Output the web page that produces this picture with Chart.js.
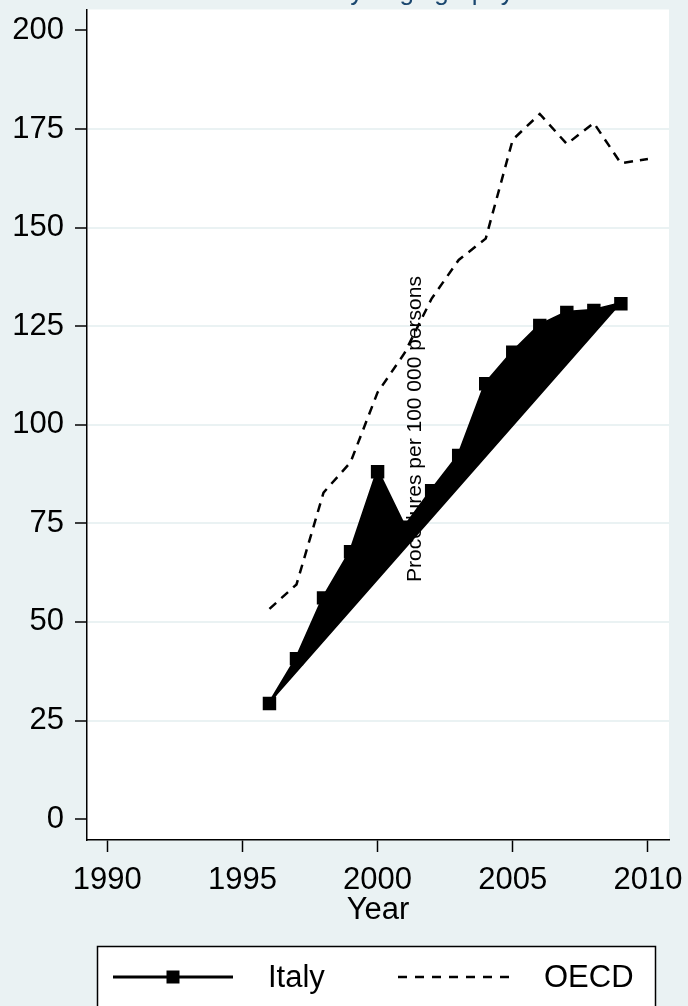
<!DOCTYPE html>
<html>
<head>
<meta charset="utf-8">
<script src="https://cdn.jsdelivr.net/npm/chart.js@4.4.1/dist/chart.umd.min.js"></script>
<style>
  html, body { margin: 0; padding: 0; background: #eaf2f3; }
  #wrap { width: 688px; height: 1006px; }
</style>
</head>
<body>
<div id="wrap"><canvas id="chart" width="688" height="1006"></canvas></div>
<script>
// values
var years = [1996, 1997, 1998, 1999, 2000, 2001, 2002, 2003, 2004, 2005, 2006, 2007, 2008, 2009];
var italy = [29.3, 40.7, 56.1, 67.8, 88.1, 74.0, 83.3, 92.2, 110.4, 118.4, 125.2, 128.5, 129.0, 130.7];
var oecdYears = [1996, 1997, 1998, 1999, 2000, 2001, 2002, 2003, 2004, 2005, 2006, 2007, 2008, 2009, 2010];
var oecd = [53.3, 59.5, 82.8, 90.5, 108.2, 118.2, 132.0, 141.8, 147.2, 172.3, 178.8, 171.2, 176.5, 166.3, 167.4];
var xTicks = [1990, 1995, 2000, 2005, 2010];
var yTicks = [0, 25, 50, 75, 100, 125, 150, 175, 200];

var bg = "#eaf2f3";
var fontName = "'Liberation Sans', Arial, sans-serif";

function pts(xs, ys) {
  var out = [];
  for (var i = 0; i < xs.length; i++) out.push({ x: xs[i], y: ys[i] });
  return out;
}

// closing chord of the Italy polygon, first point to last point
var chord = [
  { x: years[0], y: italy[0] },
  { x: years[years.length - 1], y: italy[italy.length - 1] }
];

var stataLook = {
  id: "stataLook",
  beforeDraw: function (chart) {
    var ctx = chart.ctx, a = chart.chartArea;
    ctx.save();
    ctx.fillStyle = bg;
    ctx.fillRect(0, 0, chart.width, chart.height);
    ctx.fillStyle = "#ffffff";
    ctx.fillRect(a.left, a.top, a.right - a.left, a.bottom - a.top);
    ctx.restore();
  },
  afterDraw: function (chart) {
    var ctx = chart.ctx;
    ctx.save();
    // title, mostly cut off at the top edge
    ctx.fillStyle = "#1a476f";
    ctx.font = "26px " + fontName;
    ctx.textAlign = "center";
    ctx.textBaseline = "alphabetic";
    ctx.fillText("Coronary angiography", 385, 0);

    // y axis title, where stata put it
    ctx.fillStyle = "#000";
    ctx.font = "21px " + fontName;
    ctx.translate(415, 429);
    ctx.rotate(-Math.PI / 2);
    ctx.textBaseline = "middle";
    ctx.fillText("Procedures per 100 000 persons", 0, 0);
    ctx.restore();

    // legend box
    ctx.save();
    ctx.fillStyle = "#fff";
    ctx.fillRect(97, 946, 559, 70);
    ctx.strokeStyle = "#000";
    ctx.lineWidth = 1.5;
    ctx.strokeRect(97.5, 946.5, 558, 70);
    var ly = 977;
    ctx.lineWidth = 3;
    ctx.beginPath(); ctx.moveTo(113, ly); ctx.lineTo(233, ly); ctx.stroke();
    ctx.fillStyle = "#000";
    ctx.fillRect(173 - 6.5, ly - 6.5, 13, 13);
    ctx.lineWidth = 2.5;
    ctx.setLineDash([9, 8]);
    ctx.beginPath(); ctx.moveTo(398, ly); ctx.lineTo(516, ly); ctx.stroke();
    ctx.setLineDash([]);
    ctx.font = "31px " + fontName;
    ctx.textAlign = "left";
    ctx.textBaseline = "middle";
    ctx.fillText(chart.data.datasets[0].label, 268, ly + 1);
    ctx.fillText(chart.data.datasets[1].label, 544, ly + 1);
    ctx.restore();
  }
};

new Chart(document.getElementById("chart"), {
  type: "line",
  data: {
    datasets: [
      {
        label: "Italy",
        data: pts(years, italy),
        borderColor: "#000",
        borderWidth: 3.5,
        backgroundColor: "#000",
        pointStyle: "rect",
        pointRadius: 9.5,
        pointBackgroundColor: "#000",
        pointBorderWidth: 0,
        fill: { target: 2, above: "#000", below: "#000" },
        tension: 0
      },
      {
        label: "OECD",
        data: pts(oecdYears, oecd),
        borderColor: "#000",
        borderWidth: 2.5,
        borderDash: [9, 7],
        pointRadius: 0,
        fill: false,
        tension: 0
      },
      {
        label: "chord",
        data: chord,
        borderWidth: 0,
        borderColor: "rgba(0,0,0,0)",
        pointRadius: 0,
        fill: false
      }
    ]
  },
  options: {
    responsive: false,
    animation: false,
    devicePixelRatio: 1,
    layout: { padding: { left: 0, right: 19, top: 6, bottom: 77 } },
    plugins: {
      legend: { display: false },
      tooltip: { enabled: false },
      title: { display: false }
    },
    scales: {
      x: {
        type: "linear",
        position: "bottom",
        min: 1989.25,
        max: 2010.78,
        afterBuildTicks: function (s) { s.ticks = xTicks.map(function (v) { return { value: v }; }); },
        afterFit: function (s) { s.height = 89; s.paddingLeft = 0; s.paddingRight = 0; },
        grid: { drawOnChartArea: false, tickLength: 12, tickColor: "#000", tickWidth: 1.5 },
        border: { color: "#000", width: 1.5 },
        ticks: {
          color: "#000",
          font: { family: fontName, size: 31 },
          padding: 10,
          maxRotation: 0,
          autoSkip: false,
          callback: function (v) { return String(v); }
        },
        title: {
          display: true,
          text: "Year",
          color: "#000",
          font: { family: fontName, size: 31 },
          padding: 0
        }
      },
      y: {
        min: -5.3,
        max: 205.3,
        afterBuildTicks: function (s) { s.ticks = yTicks.map(function (v) { return { value: v }; }); },
        afterFit: function (s) { s.width = 87; s.paddingTop = 0; s.paddingBottom = 0; },
        grid: {
          color: function (c) {
            var v = c.tick ? c.tick.value : null;
            return (v === 0 || v === 200) ? "rgba(0,0,0,0)" : bg;
          },
          lineWidth: 2,
          tickLength: 12,
          tickColor: "#000",
          tickWidth: 1.5
        },
        border: { color: "#000", width: 1.5 },
        ticks: {
          color: "#000",
          font: { family: fontName, size: 31 },
          padding: 11,
          callback: function (v) { return String(v); }
        }
      }
    }
  },
  plugins: [stataLook]
});
</script>
</body>
</html>
